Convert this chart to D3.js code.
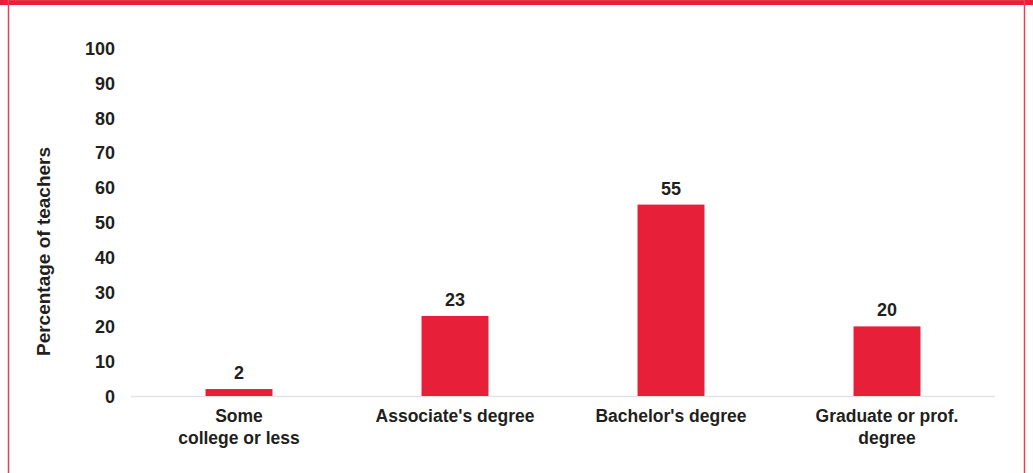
<!DOCTYPE html>
<html>
<head>
<meta charset="utf-8">
<script src="https://cdn.jsdelivr.net/npm/d3@7"></script>
<style>
  html, body { margin: 0; padding: 0; background: #fff; }
  svg { display: block; }
</style>
</head>
<body>
<script>
// Teachers by highest level of education
const categories = [["Some", "college or less"], ["Associate's degree"], ["Bachelor's degree"], ["Graduate or prof.", "degree"]];
const values = [2, 23, 55, 20];
const yTicks = [0, 10, 20, 30, 40, 50, 60, 70, 80, 90, 100];
const yTitle = "Percentage of teachers";

const W = 1033, H = 473;
const red = "#e81f38";
const textColor = "#231f20";
const font = "'Liberation Sans', Arial, Helvetica, sans-serif";

const svg = d3.select("body").append("svg").attr("width", W).attr("height", H);

// Frame: heavy top band and thin side rules
svg.append("rect").attr("x", 0).attr("y", 0).attr("width", W).attr("height", 5).attr("fill", red);
svg.append("rect").attr("x", 8.5).attr("y", 0).attr("width", W - 17).attr("height", H + 10)
  .attr("fill", "none").attr("stroke", "#e8404f").attr("stroke-width", 1.5);

const plot = { left: 131, right: 995, top: 48, bottom: 396 };

const x = d3.scaleBand().domain(d3.range(categories.length))
  .range([plot.left, plot.right]).paddingInner(0.69).paddingOuter(0.345);
const y = d3.scaleLinear().domain([0, 100]).range([plot.bottom, plot.top]);

// Y axis labels (no axis line)
const yAxis = d3.axisLeft(y).tickValues(yTicks).tickSize(0).tickPadding(0);
const gy = svg.append("g").attr("transform", `translate(${plot.left - 16},0)`).call(yAxis);
gy.select(".domain").remove();
gy.selectAll("text").attr("font-family", font).attr("font-size", 18).attr("font-weight", "bold")
  .attr("fill", textColor).attr("dy", "0.36em");

// Baseline
svg.append("line").attr("x1", plot.left).attr("x2", plot.right)
  .attr("y1", y(0) + 0.5).attr("y2", y(0) + 0.5).attr("stroke", "#e3e3e3").attr("stroke-width", 1.5);

// Bars
svg.append("g").selectAll("rect").data(values).join("rect")
  .attr("x", (d, i) => x(i)).attr("width", x.bandwidth())
  .attr("y", d => y(d)).attr("height", d => y(0) - y(d))
  .attr("fill", red);

// Value labels
svg.append("g").selectAll("text").data(values).join("text")
  .attr("x", (d, i) => x(i) + x.bandwidth() / 2).attr("y", d => y(d) - 10)
  .attr("text-anchor", "middle").attr("font-family", font).attr("font-size", 18)
  .attr("font-weight", "bold").attr("fill", textColor).text(d => d);

// Category labels
const cat = svg.append("g").selectAll("text").data(categories).join("text")
  .attr("x", (d, i) => x(i) + x.bandwidth() / 2).attr("y", plot.bottom + 26)
  .attr("text-anchor", "middle").attr("font-family", font).attr("font-size", 17.5)
  .attr("font-weight", "bold").attr("fill", textColor);
cat.selectAll("tspan").data(d => d).join("tspan")
  .attr("x", function () { return d3.select(this.parentNode).attr("x"); })
  .attr("dy", (d, i) => i === 0 ? 0 : 22).text(d => d);

// Y axis title
svg.append("text").attr("transform", `translate(50,251.5) rotate(-90)`)
  .attr("text-anchor", "middle").attr("font-family", font).attr("font-size", 19)
  .attr("font-weight", "bold").attr("fill", textColor).text(yTitle);
</script>
</body>
</html>
